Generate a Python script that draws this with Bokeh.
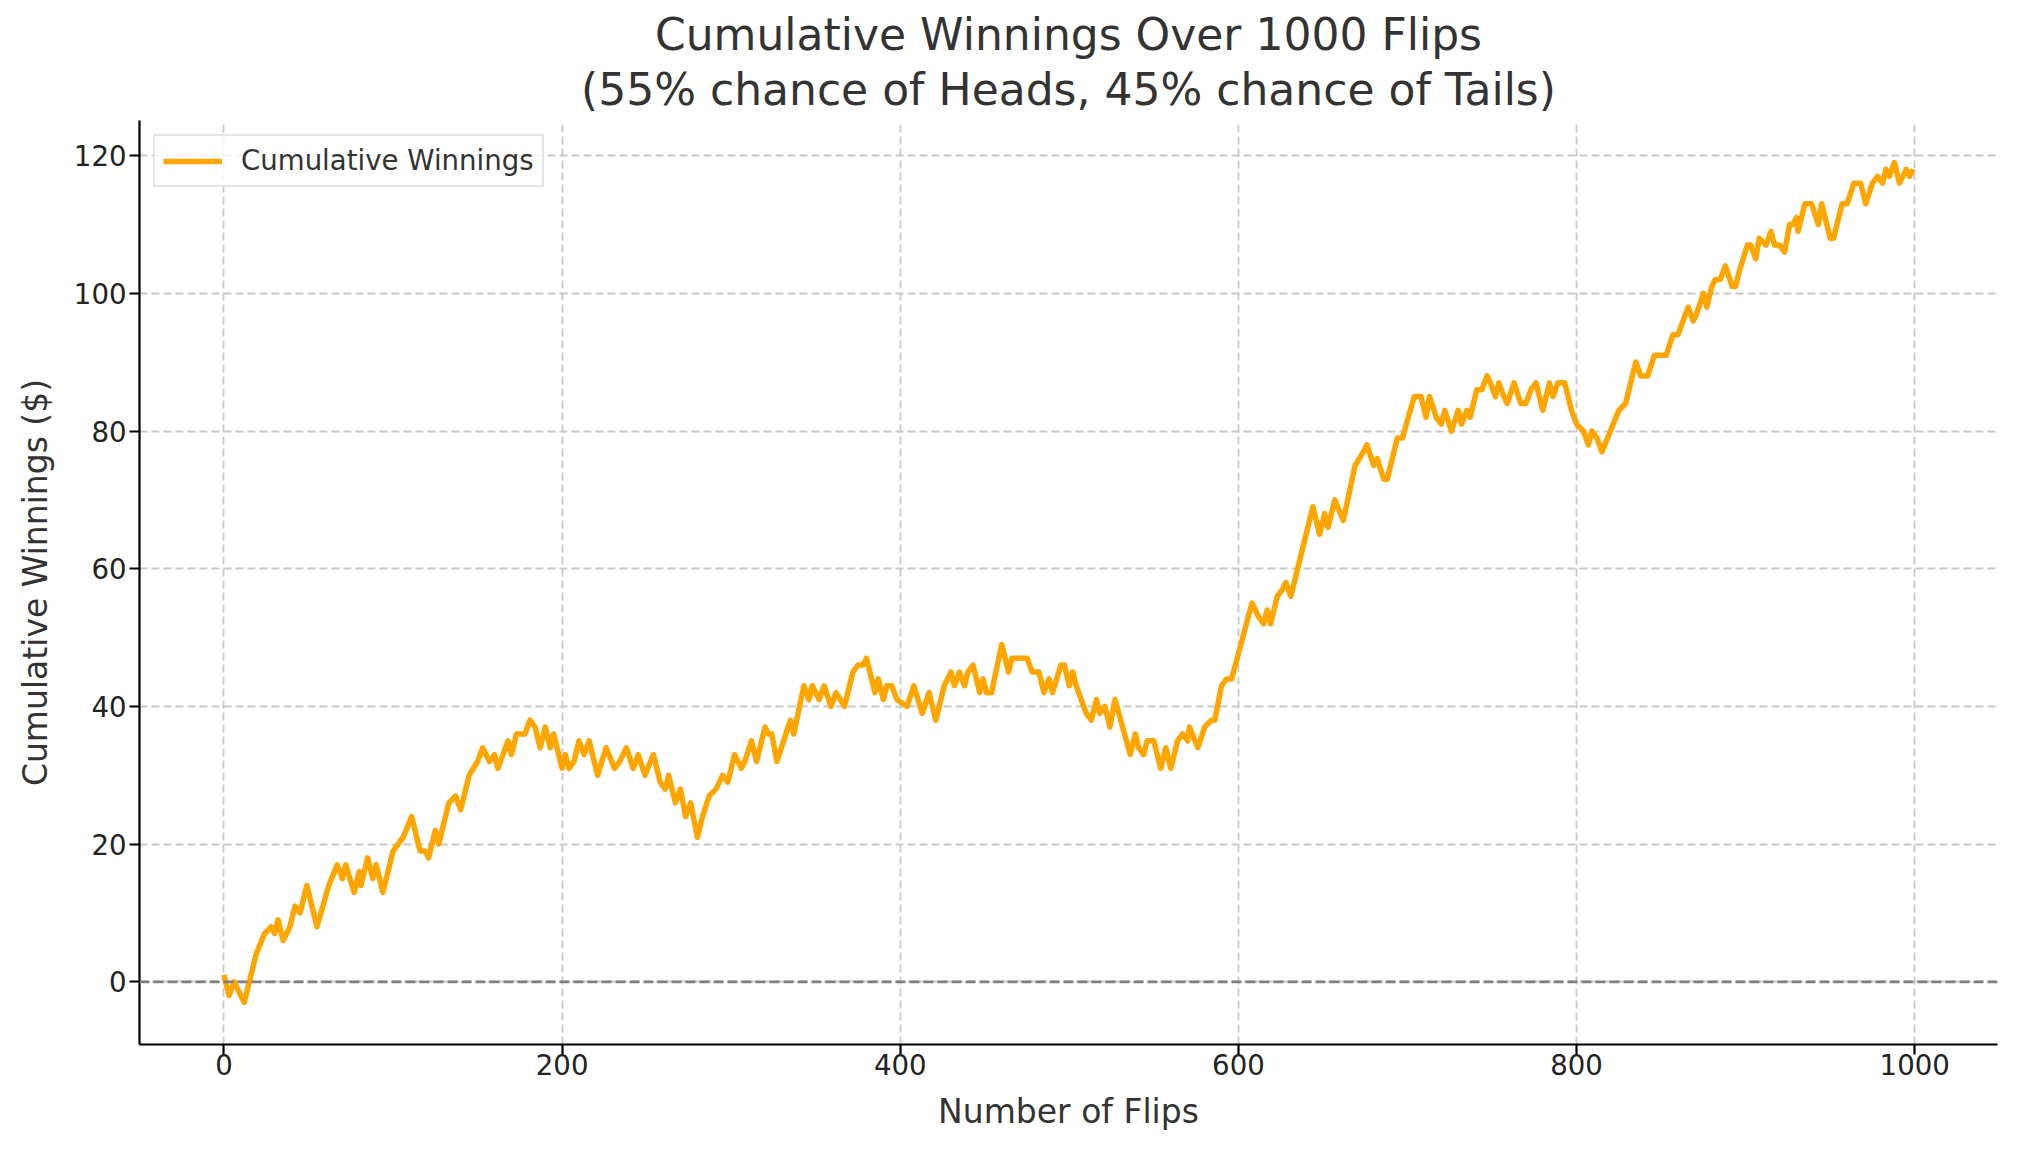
from bokeh.plotting import figure
from bokeh.models import Title, Range1d, Span, FixedTicker
from bokeh.embed import file_html
from bokeh.resources import INLINE

# vertices (flip number, cumulative winnings)
flips = [0, 3, 6, 10, 12, 19, 24, 28, 30, 32, 35, 39, 42, 45, 49, 55, 62, 67, 70, 72,
         77, 80, 81, 85, 88, 90, 94, 100, 106, 111, 116, 119, 121, 125, 127, 133, 137, 140, 145, 150,
         153, 157, 160, 162, 165, 168, 170, 173, 178, 181, 184, 187, 190, 193, 195, 200, 202, 204, 207, 210,
         213, 216, 221, 226, 231, 234, 238, 242, 245, 249, 254, 258, 261, 263, 267, 270, 273, 276, 280, 283,
         287, 291, 295, 298, 302, 306, 308, 312, 315, 320, 322, 324, 327, 331, 335, 337, 343, 346, 348, 352,
         355, 359, 362, 367, 372, 375, 378, 380, 385, 387, 390, 392, 395, 398, 404, 408, 413, 417, 421, 426,
         430, 432, 435, 438, 440, 443, 447, 449, 451, 454, 460, 464, 466, 475, 478, 482, 485, 488, 490, 495,
         497, 500, 502, 504, 510, 513, 516, 518, 521, 524, 527, 536, 539, 541, 544, 546, 550, 554, 557, 560,
         564, 567, 570, 571, 576, 580, 584, 586, 590, 593, 596, 608, 612, 615, 617, 619, 623, 626, 628, 631,
         644, 648, 651, 653, 657, 662, 669, 674, 676, 680, 682, 686, 688, 694, 697, 704, 708, 711, 713, 717,
         720, 722, 726, 730, 732, 735, 737, 741, 744, 747, 749, 752, 754, 757, 759, 763, 767, 770, 773, 776,
         780, 784, 786, 789, 793, 797, 800, 804, 807, 809, 812, 815, 820, 825, 829, 835, 838, 842, 846, 853,
         857, 860, 863, 866, 869, 871, 875, 877, 880, 882, 885, 888, 892, 894, 896, 901, 903, 906, 908, 912,
         915, 917, 920, 923, 926, 928, 930, 931, 935, 939, 943, 945, 950, 952, 957, 960, 964, 968, 971, 975,
         978, 981, 983, 985, 988, 991, 995, 997, 999]
winnings = [1, -2, 0, -2, -3, 4, 7, 8, 7, 9, 6, 8, 11, 10, 14, 8, 14, 17, 15, 17,
            13, 16, 14, 18, 15, 17, 13, 19, 21, 24, 19, 19, 18, 22, 20, 26, 27, 25, 30, 32,
            34, 32, 33, 31, 33, 35, 33, 36, 36, 38, 37, 34, 37, 34, 36, 31, 33, 31, 32, 35,
            33, 35, 30, 34, 31, 32, 34, 31, 33, 30, 33, 29, 28, 30, 26, 28, 24, 26, 21, 24,
            27, 28, 30, 29, 33, 31, 32, 35, 32, 37, 36, 36, 32, 35, 38, 36, 43, 41, 43, 41,
            43, 40, 42, 40, 45, 46, 46, 47, 42, 44, 41, 43, 43, 41, 40, 43, 39, 42, 38, 43,
            45, 43, 45, 43, 45, 46, 42, 44, 42, 42, 49, 45, 47, 47, 45, 45, 42, 44, 42, 46,
            46, 43, 45, 43, 39, 38, 41, 39, 40, 37, 41, 33, 36, 34, 33, 35, 35, 31, 34, 31,
            35, 36, 35, 37, 34, 37, 38, 38, 43, 44, 44, 55, 53, 52, 54, 52, 56, 57, 58, 56,
            69, 65, 68, 66, 70, 67, 75, 77, 78, 75, 76, 73, 73, 79, 79, 85, 85, 82, 85, 82,
            81, 83, 80, 83, 81, 83, 82, 86, 86, 88, 87, 85, 87, 85, 84, 87, 84, 84, 86, 87,
            83, 87, 85, 87, 87, 83, 81, 80, 78, 80, 79, 77, 80, 83, 84, 90, 88, 88, 91, 91,
            94, 94, 96, 98, 96, 97, 100, 98, 101, 102, 102, 104, 101, 101, 103, 107, 107, 105, 108, 107,
            109, 107, 107, 106, 110, 110, 111, 109, 113, 113, 110, 113, 108, 108, 113, 113, 116, 116, 113, 116,
            117, 116, 118, 117, 119, 116, 118, 117, 118]

x_ticks = [0, 200, 400, 600, 800, 1000]
y_ticks = [0, 20, 40, 60, 80, 100, 120]

title_line1 = "Cumulative Winnings Over 1000 Flips"
title_line2 = "(55% chance of Heads, 45% chance of Tails)"

FONT = "DejaVu Sans"
TEXT = "#333333"

p = figure(width=2000, height=1134, output_backend="svg", toolbar_location=None,
           x_range=Range1d(-49.95, 1048.95), y_range=Range1d(-9.1, 125.1),
           min_border_left=139, min_border_right=3, min_border_top=120, min_border_bottom=90)

# first line (outermost)
p.title.text = title_line1
p.title.align = "center"
p.title.text_font = FONT
p.title.text_font_size = "44px"
p.title.text_font_style = "normal"
p.title.text_color = TEXT
p.title.standoff = -9
# second line (closest to the plot)
t2 = Title(text=title_line2, align="center", text_font=FONT, text_font_size="44px",
           text_font_style="normal", text_color=TEXT, standoff=12)
p.add_layout(t2, "above")

p.outline_line_color = None
p.background_fill_color = "white"
p.border_fill_color = "white"

for ax in (p.xaxis[0], p.yaxis[0]):
    ax.axis_line_color = "black"
    ax.axis_line_width = 2.2
    ax.major_tick_line_color = "black"
    ax.major_tick_line_width = 2.2
    ax.major_tick_out = 10
    ax.major_tick_in = 0
    ax.minor_tick_line_color = None
    ax.major_label_text_font = FONT
    ax.major_label_text_font_size = "27.6px"
    ax.major_label_text_color = "#222222"
    ax.axis_label_text_font = FONT
    ax.axis_label_text_font_size = "33px"
    ax.axis_label_text_font_style = "normal"
    ax.axis_label_text_color = TEXT

p.xaxis.ticker = FixedTicker(ticks=x_ticks)
p.yaxis.ticker = FixedTicker(ticks=y_ticks)
p.xaxis.axis_label = "Number of Flips"
p.yaxis.axis_label = "Cumulative Winnings ($)"
p.xaxis.major_label_standoff = -1
p.yaxis.major_label_standoff = 3
p.xaxis.axis_label_standoff = 14
p.yaxis.axis_label_standoff = 16

for g in (p.xgrid[0], p.ygrid[0]):
    g.grid_line_color = "#c8c8c8"
    g.grid_line_width = 1.8
    g.grid_line_dash = "8 4"

zero = Span(location=0, dimension="width", line_color="#808080", line_width=2.8, line_dash="10 4")
p.add_layout(zero)

p.line(flips, winnings, line_color="#FFA500", line_width=5.5, line_join="round",
       legend_label="Cumulative Winnings")

lg = p.legend[0]
lg.location = "top_left"
lg.margin = 14
lg.padding = 8
lg.spacing = 0
lg.glyph_width = 59
lg.glyph_height = 30
lg.label_standoff = 19
lg.label_text_font = FONT
lg.label_text_font_size = "27.6px"
lg.label_text_color = TEXT
lg.border_line_color = "#cccccc"
lg.border_line_width = 2
lg.background_fill_alpha = 0.8

open("out.html", "w").write(file_html(p, INLINE))
